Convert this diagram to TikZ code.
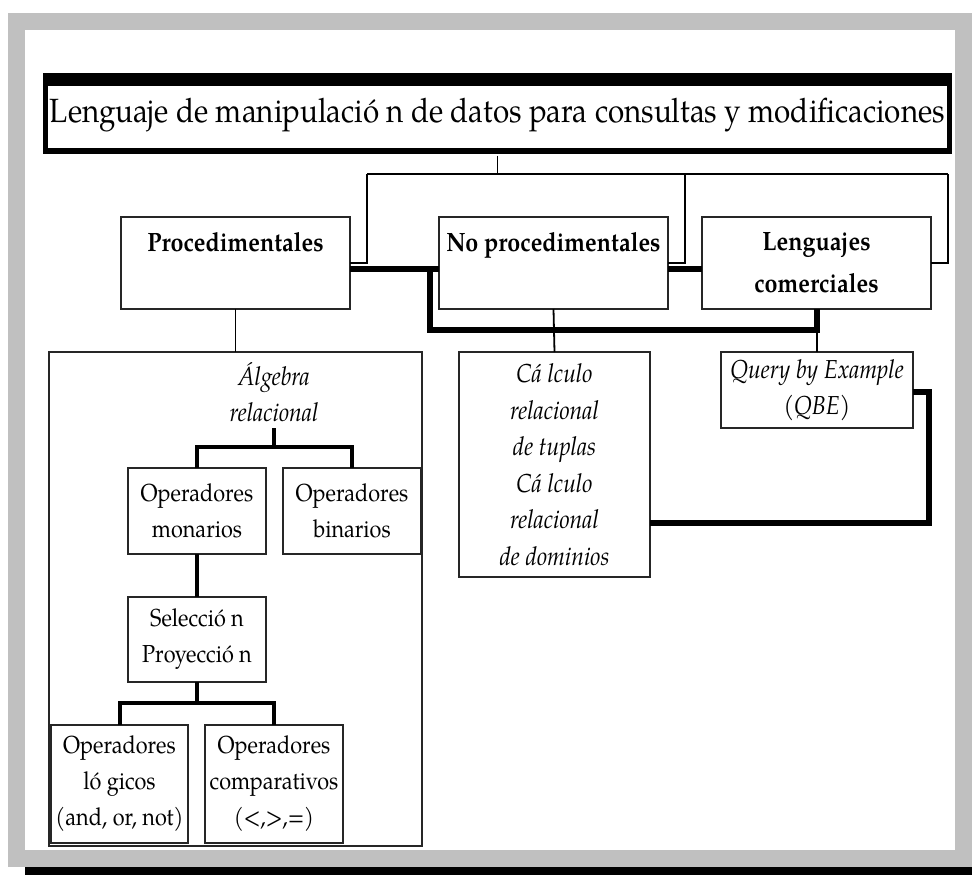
\documentclass[tikz,border=0pt]{standalone}
\usepackage{fontspec}
\setmainfont[FakeStretch=0.88]{TeX Gyre Pagella}
\usetikzlibrary{calc,backgrounds}
\definecolor{framegray}{HTML}{C0C0C0}
\begin{document}
\begin{tikzpicture}[x=1pt,y=-1pt,
  box/.style={draw=black!85, line width=1.4pt, inner sep=0pt, outer sep=0pt, align=center, fill=white},
  thn/.style={line width=1.8pt},
  med/.style={line width=4pt},
  thk/.style={line width=6pt},
  bodyf/.style={font=\fontsize{24.6}{36}\selectfont},
  itf/.style={font=\fontsize{26}{36.5}\selectfont\itshape},
  headf/.style={font=\fontsize{26.5}{42}\selectfont\bfseries},
  titlef/.style={font=\fontsize{33.6}{38}\selectfont}]
\useasboundingbox (0,0) rectangle (972,875);
\fill[white] (0,0) rectangle (972,875);
\fill[framegray] (8,13) rectangle (972,867);
\fill[white] (25,30) rectangle (955,850);
\fill[black] (25,867) rectangle (972,875);

% title
\fill[black] (43,73) rectangle (952,154);
\fill[white] (48,86) rectangle (947,148);
\node[inner sep=0pt, outer sep=0pt, minimum width=909pt, minimum height=81pt, titlef] (title) at (497.5,115)
  {Lenguaje de manipulació n de datos para consultas y modificaciones};

% second level
\node[box, minimum width=229pt, minimum height=92pt, headf] (proc) at (235.5,263) {Procedimentales\\\mbox{}};
\node[box, minimum width=229pt, minimum height=92pt, headf] (noproc) at (553.5,263) {No procedimentales\\\mbox{}};
\node[box, minimum width=229pt, minimum height=92pt, headf] (comer) at (816.5,263) {Lenguajes\\comerciales};

% algebra
\node[box, minimum width=373pt, minimum height=494pt] (alg) at (235.5,599) {};
\node[inner sep=0pt, align=center, itf] (algt) at (274,392) {Álgebra\\relacional};
\node[box, minimum width=138pt, minimum height=86pt, bodyf] (mon) at (197,511) {Operadores\\monarios};
\node[box, minimum width=138pt, minimum height=86pt, bodyf] (bin) at (352,511) {Operadores\\binarios};
\node[box, minimum width=138pt, minimum height=85pt, bodyf] (sel) at (197,639.5) {Selecció n\\Proyecció n};
\node[box, minimum width=137pt, minimum height=118pt, bodyf] (log) at (119.5,784) {Operadores\\ló gicos\\(and, or, not)};
\node[box, minimum width=138pt, minimum height=118pt, bodyf] (comp) at (274,784) {Operadores\\comparativos\\(<,>,=)};

% calculo / qbe
\node[box, minimum width=191pt, minimum height=225pt, itf] (calc) at (554.5,464.5)
  {Cá lculo\\relacional\\de tuplas\\Cá lculo\\relacional\\de dominios};
\node[box, minimum width=192pt, minimum height=76pt, itf] (qbe) at (817,390) {Query by Example\\(QBE)};

% thin connectors from title
\coordinate (tj0) at (497.5,174);
\coordinate (hl) at (367,174);
\coordinate (hm) at (685,174);
\coordinate (hr) at (948,174);
\draw[thn] (title.south) -- (tj0);
\draw[thn] (hl) -- (hr);
\draw[thn] (hl) |- (proc.east);
\draw[thn] (hm) |- (noproc.east);
\draw[thn] (hr) |- (comer.east);

% thin down links
\draw[thn] (proc.south) -- (alg.north);
\draw[thn] (noproc.south) -- (calc.north);
\coordinate (tj) at (430,266);
\coordinate (tb) at (430,330);
\draw[thn] (qbe.north |- tb) -- (qbe.north);

% thick links
\draw[thk] ($(proc.east)+(0,6)$) -- ($(noproc.west)+(0,6)$);
\draw[thk] ($(noproc.east)+(0,6)$) -- ($(comer.west)+(0,6)$);
\draw[thk] (tj) -- (tb) -- (tb -| comer.south) -- (comer.south);

% algebra tree
\coordinate (at1) at (274,428);
\coordinate (at2) at (274,447);
\draw[med] (at1) -- (at2);
\draw[med] (mon.north) |- (at2) -| (bin.north);
\draw[med] (mon.south) -- (sel.north);
\coordinate (sj) at (197,703);
\draw[med] (sel.south) -- (sj);
\draw[med] (log.north) |- (sj) -| (comp.north);

% qbe to calculo
\coordinate (qa) at (929,392);
\coordinate (qb) at (929,523);
\draw[thk] (qbe.east |- qa) -- (qa) -- (qb) -- (qb -| calc.east);
\end{tikzpicture}
\end{document}
